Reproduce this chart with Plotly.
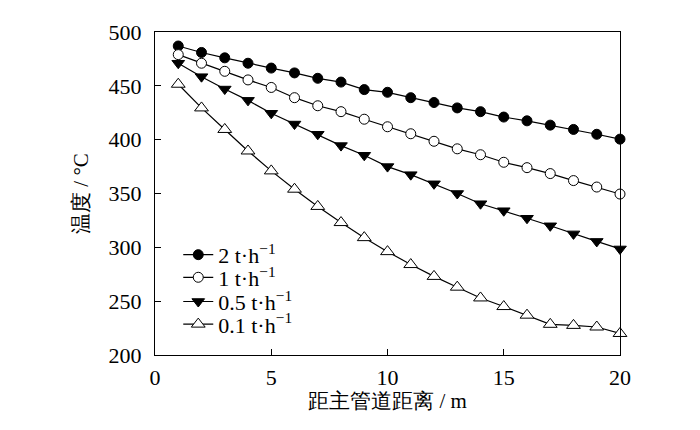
import plotly.graph_objects as go

# distance from main pipe (m)
distance = list(range(1, 21))

# temperature (°C) per flow rate
temp_2 = [487, 481, 476, 471, 466.5, 462, 457, 453.5, 446.5, 444,
          439, 434.5, 429.5, 426, 421, 417.5, 413.5, 409.5, 405, 400.5]
temp_1 = [479, 471, 463.5, 455.5, 448.5, 439, 431.5, 426, 419, 412,
          405.5, 398.5, 391.5, 386, 379, 374, 368.5, 362, 356, 349.5]
temp_05 = [471, 458.5, 447, 436.5, 424.5, 414.5, 405, 394.5, 385.5, 375,
           367.5, 359, 350, 340.5, 334, 327, 320, 312.5, 305.5, 298.5]
temp_01 = [451.5, 429.5, 409.5, 389.5, 371, 354, 338, 323, 309, 296,
           284, 273, 263, 253, 245, 237, 228.5, 227.5, 226, 220]

names = ["2 t·h<sup>−1</sup>", "1 t·h<sup>−1</sup>",
         "0.5 t·h<sup>−1</sup>", "0.1 t·h<sup>−1</sup>"]

FONT = "'Liberation Serif', 'DejaVu Serif', serif"

fig = go.Figure()

# marker style per series
styles = [
    dict(symbol="circle", size=10, color="black"),
    dict(symbol="circle", size=10, color="white"),
    dict(symbol="triangle-down", size=11, color="black"),
    dict(symbol="triangle-up", size=12, color="white"),
]

# one legend per series so the rows can be packed tightly
legend_ids = ["legend", "legend2", "legend3", "legend4"]

for y, name, st, lg in zip([temp_2, temp_1, temp_05, temp_01], names, styles, legend_ids):
    fig.add_trace(go.Scatter(
        x=distance, y=y, name=name, mode="lines+markers", legend=lg,
        showlegend=True,
        line=dict(color="black", width=1.2),
        marker=dict(symbol=st["symbol"], size=st["size"], color=st["color"],
                    line=dict(color="black", width=1)),
        cliponaxis=False))

axis_style = dict(showline=True, linecolor="black", linewidth=1.2, mirror=True,
                  ticks="inside", ticklen=6, tickcolor="black", showgrid=False,
                  zeroline=False, tickfont=dict(size=22, color="black", family=FONT))


def legend_box(y):
    return dict(x=0.05, y=y, xanchor="left", yanchor="middle",
                bgcolor="rgba(0,0,0,0)", font=dict(size=22, family=FONT))


# the page body has an 8px margin, so margins are shifted by 8
fig.update_layout(
    width=700, height=430,
    margin=dict(l=147, r=88, t=13, b=83),
    showlegend=True,
    plot_bgcolor="white", paper_bgcolor="white",
    font=dict(family=FONT, color="black", size=21),
    xaxis=dict(range=[0, 20], dtick=5, ticklabelstandoff=2,
               title=dict(text="距主管道距离 / m", font=dict(size=21), standoff=2),
               **axis_style),
    yaxis=dict(range=[200, 500], dtick=50, ticklabelstandoff=8,
               title=dict(text="温度 / °C", font=dict(size=21), standoff=14),
               **axis_style),
    legend=legend_box(0.31),
    legend2=legend_box(0.24),
    legend3=legend_box(0.165),
    legend4=legend_box(0.095),
)

fig.write_html("out.html")
